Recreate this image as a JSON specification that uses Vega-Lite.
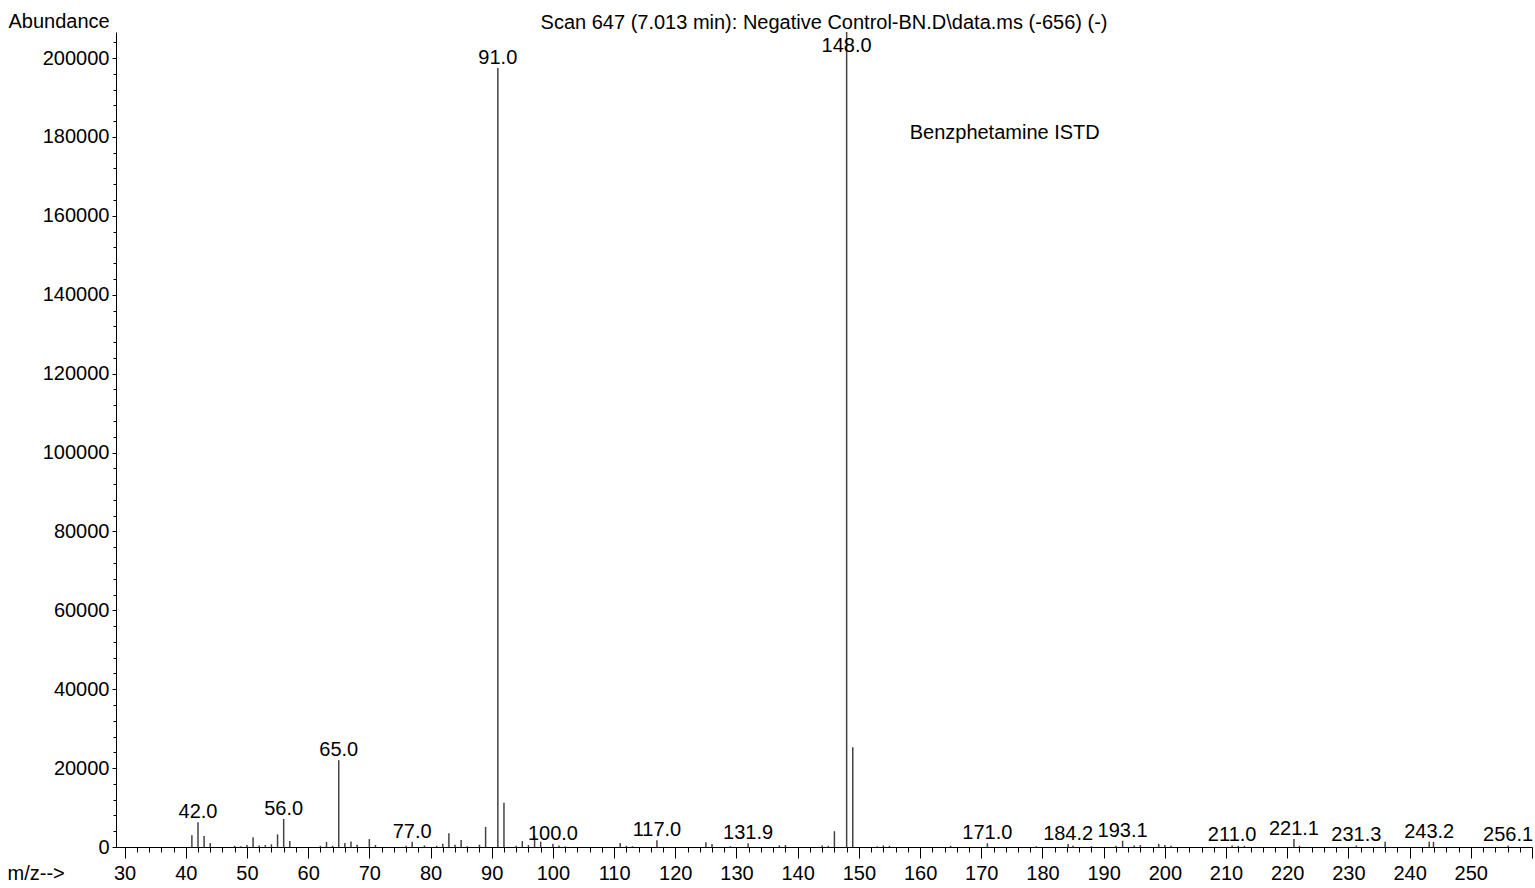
{
  "$schema": "https://vega.github.io/schema/vega-lite/v6.json",
  "autosize": {"type": "none"},
  "width": 1416,
  "height": 815,
  "padding": {"left": 116, "top": 32, "right": 3, "bottom": 41},
  "background": "white",
  "config": {
    "view": {"stroke": null},
    "font": "Liberation Sans",
    "text": {"font": "Liberation Sans"},
    "axis": {"grid": false, "labelFont": "Liberation Sans", "titleFont": "Liberation Sans", "labelColor": "black", "titleColor": "black", "tickColor": "black", "domainColor": "black", "tickWidth": 1, "domainWidth": 1}
  },
  "title": {
    "text": "Scan 647 (7.013 min): Negative Control-BN.D\\data.ms (-656) (-)",
    "anchor": "middle",
    "frame": "group",
    "font": "Liberation Sans",
    "fontSize": 20,
    "fontWeight": "normal",
    "color": "black",
    "baseline": "alphabetic",
    "offset": -38
  },
  "data": {
    "values": [
      {"mz": 41, "abundance": 3000},
      {"mz": 42.0, "abundance": 6300, "label": "42.0"},
      {"mz": 43, "abundance": 2800},
      {"mz": 44, "abundance": 1000},
      {"mz": 48, "abundance": 300},
      {"mz": 49, "abundance": 200},
      {"mz": 50, "abundance": 500},
      {"mz": 51, "abundance": 2500},
      {"mz": 52, "abundance": 400},
      {"mz": 53, "abundance": 500},
      {"mz": 54, "abundance": 700},
      {"mz": 55, "abundance": 3200},
      {"mz": 56.0, "abundance": 7100, "label": "56.0"},
      {"mz": 57, "abundance": 1500},
      {"mz": 62, "abundance": 300},
      {"mz": 63, "abundance": 1300},
      {"mz": 64, "abundance": 300},
      {"mz": 65.0, "abundance": 22000, "label": "65.0"},
      {"mz": 66, "abundance": 1000},
      {"mz": 67, "abundance": 1400},
      {"mz": 68, "abundance": 600},
      {"mz": 70, "abundance": 2000},
      {"mz": 71, "abundance": 500},
      {"mz": 76, "abundance": 300},
      {"mz": 77.0, "abundance": 1350, "label": "77.0"},
      {"mz": 79, "abundance": 400},
      {"mz": 81, "abundance": 300},
      {"mz": 82, "abundance": 800},
      {"mz": 83, "abundance": 3500},
      {"mz": 84, "abundance": 600},
      {"mz": 85, "abundance": 1800},
      {"mz": 86, "abundance": 200},
      {"mz": 88, "abundance": 600},
      {"mz": 89, "abundance": 5100},
      {"mz": 91.0, "abundance": 197500, "label": "91.0"},
      {"mz": 92, "abundance": 11200},
      {"mz": 94, "abundance": 300},
      {"mz": 95, "abundance": 1500},
      {"mz": 96, "abundance": 500},
      {"mz": 97, "abundance": 2900},
      {"mz": 98, "abundance": 1350},
      {"mz": 100.0, "abundance": 800, "label": "100.0"},
      {"mz": 101, "abundance": 400},
      {"mz": 102, "abundance": 200},
      {"mz": 111, "abundance": 1000},
      {"mz": 112, "abundance": 300},
      {"mz": 113, "abundance": 200},
      {"mz": 117.0, "abundance": 1700, "label": "117.0"},
      {"mz": 125, "abundance": 1200},
      {"mz": 126, "abundance": 750},
      {"mz": 129, "abundance": 200},
      {"mz": 131.9, "abundance": 950, "label": "131.9"},
      {"mz": 137, "abundance": 400},
      {"mz": 138, "abundance": 500},
      {"mz": 144, "abundance": 400},
      {"mz": 145, "abundance": 300},
      {"mz": 146, "abundance": 4000},
      {"mz": 148.0, "abundance": 206600, "label": "148.0"},
      {"mz": 149, "abundance": 25300},
      {"mz": 153, "abundance": 200},
      {"mz": 154, "abundance": 400},
      {"mz": 155, "abundance": 300},
      {"mz": 165, "abundance": 300},
      {"mz": 171.0, "abundance": 950, "label": "171.0"},
      {"mz": 179, "abundance": 200},
      {"mz": 184.2, "abundance": 750, "label": "184.2"},
      {"mz": 185, "abundance": 300},
      {"mz": 188, "abundance": 200},
      {"mz": 192, "abundance": 300},
      {"mz": 193.1, "abundance": 1600, "label": "193.1"},
      {"mz": 195, "abundance": 400},
      {"mz": 196, "abundance": 500},
      {"mz": 199, "abundance": 800},
      {"mz": 200, "abundance": 500},
      {"mz": 201, "abundance": 300},
      {"mz": 211.0, "abundance": 400, "label": "211.0"},
      {"mz": 212, "abundance": 300},
      {"mz": 213, "abundance": 300},
      {"mz": 221.1, "abundance": 2000, "label": "221.1"},
      {"mz": 222, "abundance": 300},
      {"mz": 231.3, "abundance": 400, "label": "231.3"},
      {"mz": 236, "abundance": 1350},
      {"mz": 243.2, "abundance": 1300, "label": "243.2"},
      {"mz": 243.9, "abundance": 1300},
      {"mz": 256.1, "abundance": 400, "label": "256.1"}
    ]
  },
  "layer": [
    {
      "mark": {"type": "rule", "color": "#444444", "strokeWidth": 1.5, "clip": true},
      "encoding": {
        "x": {
          "field": "mz", "type": "quantitative",
          "scale": {"domain": [28.6, 260], "nice": false, "zero": false},
          "axis": {
            "orient": "bottom",
            "values": [30, 40, 50, 60, 70, 80, 90, 100, 110, 120, 130, 140, 150, 160, 170, 180, 190, 200, 210, 220, 230, 240, 250, 260],
            "labelExpr": "datum.value == 260 ? '' : datum.label",
            "tickSize": 11,
            "labelPadding": 5,
            "labelFontSize": 20,
            "labelOverlap": false,
            "labelFlush": false,
            "title": "m/z-->",
            "titleFontSize": 20,
            "titleFontWeight": "normal",
            "titleAlign": "left",
            "titleBaseline": "alphabetic",
            "titleX": -109,
            "titleY": 32
          }
        },
        "y": {
          "field": "abundance", "type": "quantitative",
          "scale": {"domain": [0, 206600], "nice": false},
          "axis": {
            "orient": "left",
            "values": [0, 20000, 40000, 60000, 80000, 100000, 120000, 140000, 160000, 180000, 200000],
            "format": "d",
            "tickSize": 4,
            "labelPadding": 3,
            "labelFontSize": 20,
            "labelOverlap": false,
            "labelFlush": false,
            "title": "Abundance",
            "titleFontSize": 20,
            "titleFontWeight": "normal",
            "titleAngle": 0,
            "titleAlign": "left",
            "titleBaseline": "alphabetic",
            "titleX": -108,
            "titleY": -5
          }
        },
        "y2": {"datum": 0}
      }
    },
    {
      "transform": [{"filter": "datum.label != null && datum.abundance < 200000"}],
      "mark": {"type": "text", "fontSize": 20, "baseline": "alphabetic", "align": "center", "dy": -4, "color": "black"},
      "encoding": {
        "x": {
          "field": "mz", "type": "quantitative",
          "axis": {
            "orient": "bottom",
            "values": [30, 32, 34, 36, 38, 40, 42, 44, 46, 48, 50, 52, 54, 56, 58, 60, 62, 64, 66, 68, 70, 72, 74, 76, 78, 80, 82, 84, 86, 88, 90, 92, 94, 96, 98, 100, 102, 104, 106, 108, 110, 112, 114, 116, 118, 120, 122, 124, 126, 128, 130, 132, 134, 136, 138, 140, 142, 144, 146, 148, 150, 152, 154, 156, 158, 160, 162, 164, 166, 168, 170, 172, 174, 176, 178, 180, 182, 184, 186, 188, 190, 192, 194, 196, 198, 200, 202, 204, 206, 208, 210, 212, 214, 216, 218, 220, 222, 224, 226, 228, 230, 232, 234, 236, 238, 240, 242, 244, 246, 248, 250, 252, 254, 256, 258],
            "tickSize": 5,
            "labels": false,
            "domain": false,
            "title": null
          }
        },
        "y": {
          "field": "abundance", "type": "quantitative",
          "axis": {
            "orient": "left",
            "values": [0, 4000, 8000, 12000, 16000, 20000, 24000, 28000, 32000, 36000, 40000, 44000, 48000, 52000, 56000, 60000, 64000, 68000, 72000, 76000, 80000, 84000, 88000, 92000, 96000, 100000, 104000, 108000, 112000, 116000, 120000, 124000, 128000, 132000, 136000, 140000, 144000, 148000, 152000, 156000, 160000, 164000, 168000, 172000, 176000, 180000, 184000, 188000, 192000, 196000, 200000, 204000],
            "tickSize": 3,
            "labels": false,
            "domain": false,
            "title": null
          }
        },
        "text": {"field": "label"}
      }
    },
    {
      "transform": [{"filter": "datum.label != null && datum.abundance >= 200000"}],
      "mark": {"type": "text", "fontSize": 20, "baseline": "alphabetic", "align": "center", "dy": 20, "color": "black"},
      "encoding": {
        "x": {"field": "mz", "type": "quantitative", "axis": null},
        "y": {"field": "abundance", "type": "quantitative", "axis": null},
        "text": {"field": "label"}
      }
    },
    {
      "data": {"values": [{"note": "Benzphetamine ISTD"}]},
      "mark": {"type": "text", "fontSize": 20, "baseline": "alphabetic", "align": "left", "color": "black"},
      "encoding": {
        "x": {"datum": 158.3, "type": "quantitative", "axis": null},
        "y": {"datum": 179600, "type": "quantitative", "axis": null},
        "text": {"field": "note"}
      }
    }
  ],
  "resolve": {"axis": {"x": "independent", "y": "independent"}}
}
